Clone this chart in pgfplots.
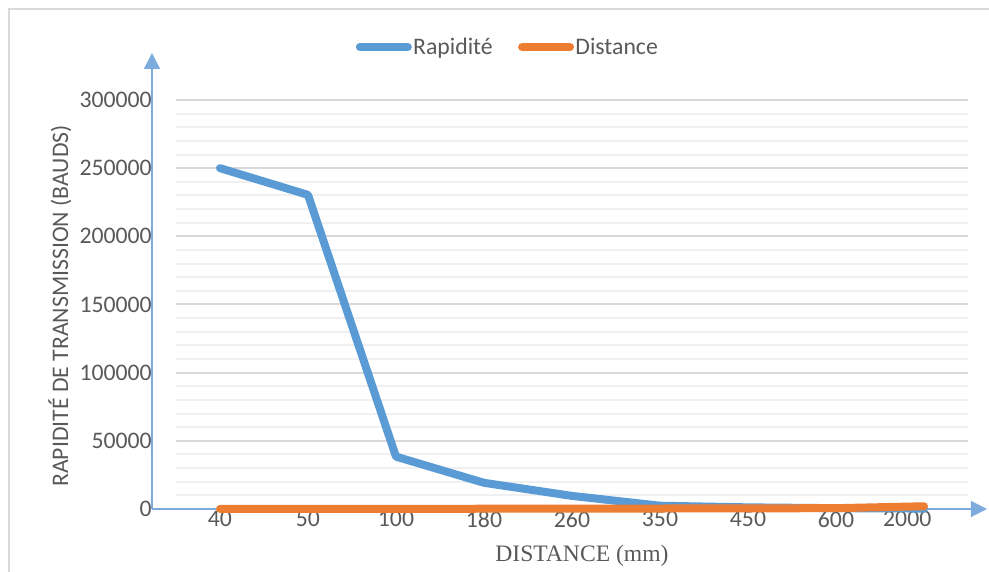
\documentclass[border=0pt]{standalone}
\usepackage{fontspec}
\setmainfont{Carlito}
\newfontfamily\timesfont{Liberation Serif}
\usepackage{pgfplots}
\pgfplotsset{compat=1.18}
\usetikzlibrary{arrows.meta}
\definecolor{cblue}{HTML}{5B9BD5}
\definecolor{corange}{HTML}{ED7D31}
\definecolor{txt}{HTML}{595959}
\definecolor{gmaj}{HTML}{D9D9D9}
\definecolor{gmin}{HTML}{F0F0F0}
\definecolor{axc}{HTML}{7EABDD}
\begin{document}
\begin{tikzpicture}
\begin{axis}[
  scale only axis,
  width=594pt, height=306.75pt,
  xmin=-0.5, xmax=8.5, ymin=0, ymax=300000,
  clip=false,
  axis line style={draw=none},
  major tick length=0pt, minor tick length=0pt,
  tick style={draw=none},
  font=\fontsize{17.8}{20}\selectfont,
  ticklabel style={text=txt},
  scaled y ticks=false,
  y tick label style={anchor=east, inner sep=0pt, xshift=-18pt},
  ytick={0,50000,100000,150000,200000,250000,300000},
  yticklabels={0,50000,100000,150000,200000,250000,300000},
  minor ytick={10000,20000,30000,40000,60000,70000,80000,90000,110000,120000,130000,140000,160000,170000,180000,190000,210000,220000,230000,240000,260000,270000,280000,290000},
  ymajorgrids, yminorgrids,
  major grid style={gmaj, line width=1.5pt},
  minor grid style={gmin, line width=1.5pt},
  xtick={0,1,2,3,4,5,6,7,7.81},
  xticklabels={40,50,100,180,260,350,\raisebox{-0.5pt}{450},\raisebox{-3.5pt}{600},\raisebox{2pt}{2000}},
  x tick label style={anchor=north, inner sep=0pt, yshift=-1.5pt},
  ylabel={RAPIDITÉ DE TRANSMISSION (BAUDS)},
  every axis y label/.style={at={(axis description cs:-0.1465,0.4963)}, rotate=90, anchor=center, text=txt},
  xlabel={\timesfont\fontsize{17.7}{20}\selectfont DISTANCE (mm)},
  every axis x label/.style={at={(axis description cs:0.5126,-0.1149)}, anchor=center, text=txt},
  legend columns=2,
  legend style={at={(axis description cs:0.4186,1.1296)}, anchor=center, draw=none, fill=none,
    font=\fontsize{17.8}{20}\selectfont, text=txt,
    nodes={inner sep=1pt},
    /tikz/every even column/.append style={column sep=18pt}},
  legend image code/.code={\draw[#1, line width=6pt, line cap=round] (3pt,0pt) -- (39pt,0pt);},
]
\coordinate (bl) at (axis cs:-2.5,-46210);
\coordinate (tr) at (axis cs:8.739,373350);
\draw[gmaj, line width=1.5pt] (axis cs:-2.392,-46210) -- (axis cs:-2.392,366381) -- (axis cs:8.739,366381);
\draw[axc, line width=1pt, -{Triangle[length=12pt,width=12pt]}] (axis cs:-0.7727,0) -- (axis cs:-0.7727,334474);
\draw[axc, line width=1pt, -{Triangle[length=12pt,width=12pt]}] (axis cs:-0.7727,0) -- (axis cs:8.716,0);
\addplot[cblue, line width=6pt, line join=round, line cap=round] coordinates {
  (0,250000) (1,230400) (2,38400) (3,19200) (4,9600) (5,2400) (6,1200) (7,600) (8,300)};
\addlegendentry{Rapidité}
\addplot[corange, line width=6pt, line join=round, line cap=round] coordinates {
  (0,40) (1,50) (2,100) (3,180) (4,260) (5,350) (6,450) (7,600) (8,2000)};
\addlegendentry{Distance}
\end{axis}
\pgfresetboundingbox
\useasboundingbox (bl) rectangle (tr);
\end{tikzpicture}
\end{document}
